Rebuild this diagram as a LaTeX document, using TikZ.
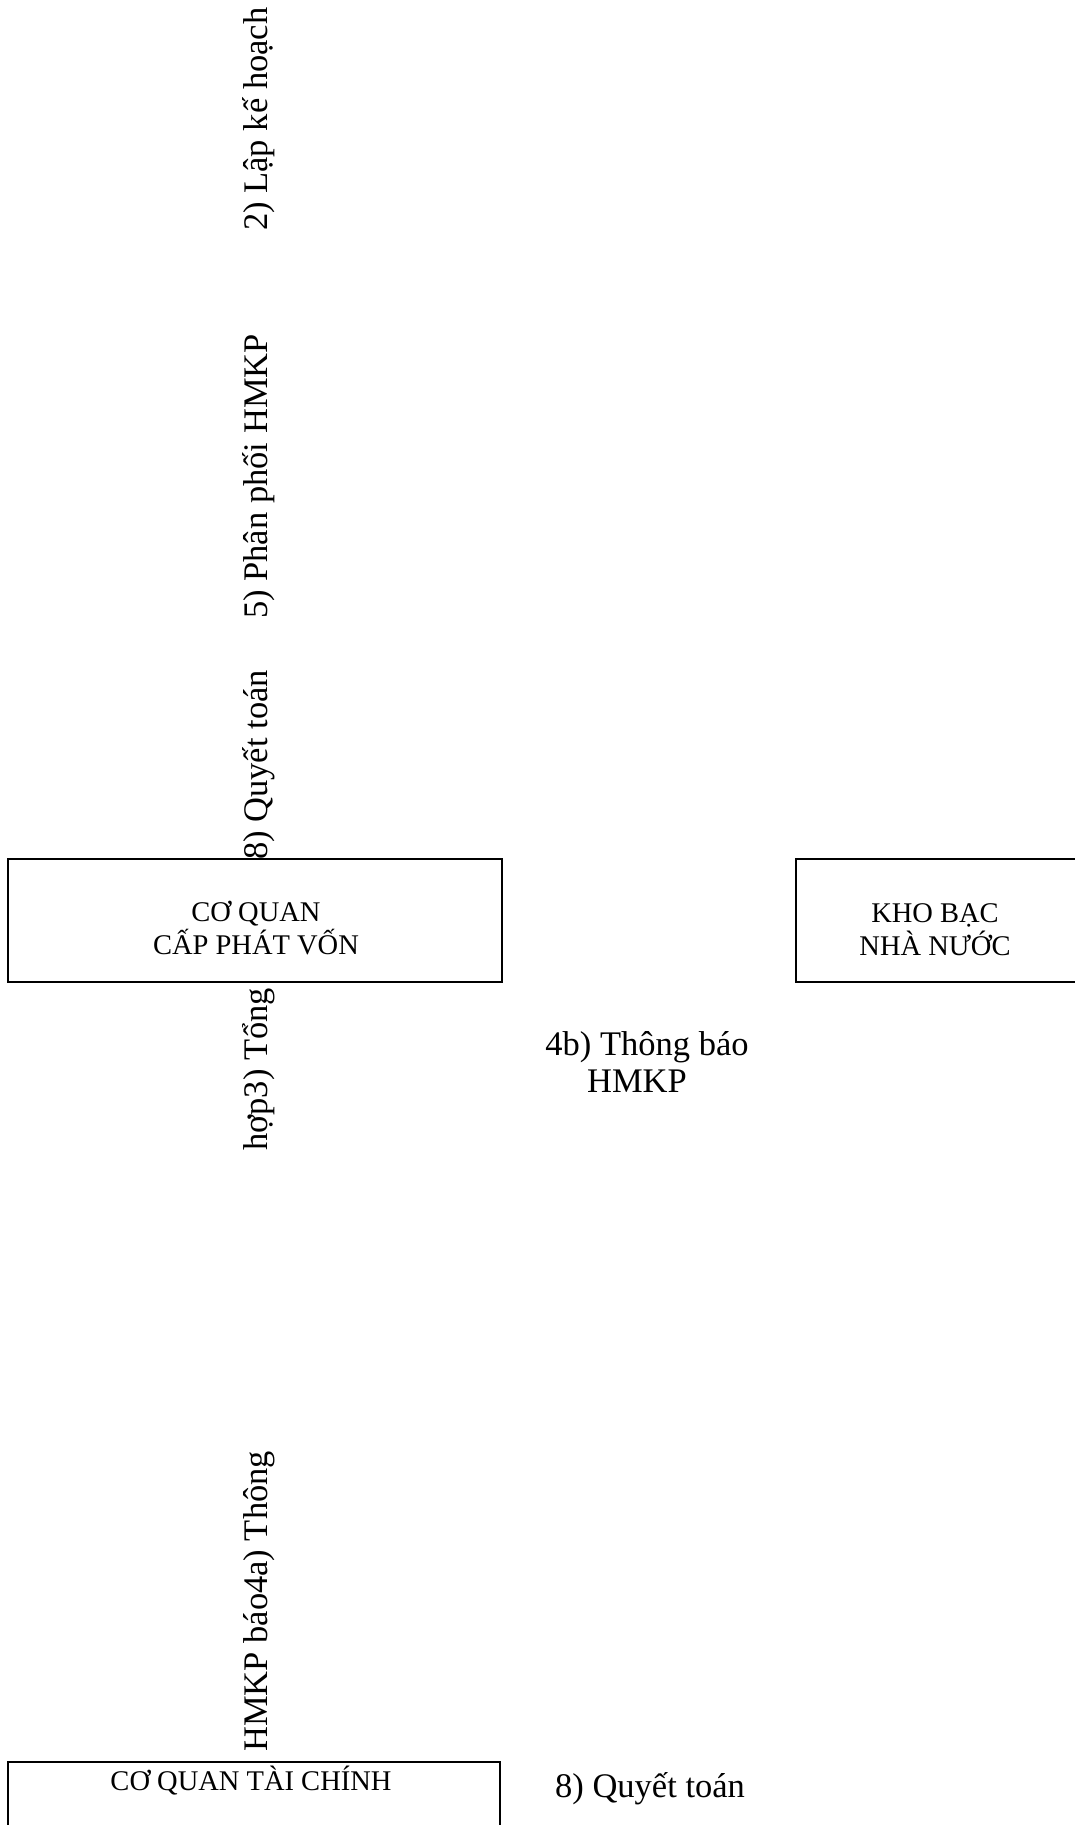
\documentclass[tikz,border=0pt]{standalone}
\usepackage{fontspec}
\setmainfont{Liberation Serif}
\begin{document}
\begin{tikzpicture}[x=1pt,y=-1pt,
  box/.style={draw=black, line width=1.8pt, rectangle, inner sep=0pt},
  boxtext/.style={font=\fontsize{28.5}{33}\selectfont, inner sep=0pt, anchor=base},
  lbl/.style={font=\fontsize{34.5}{38}\selectfont, inner sep=0pt},
  vlbl/.style={lbl, rotate=90, anchor=base west}]
\useasboundingbox (0,0) rectangle (1075,1825);
\fill[white] (0,0) rectangle (1075,1825);
% boxes
\node[box, minimum width=494pt, minimum height=123pt] (cqcp) at (255,920.5) {};
\node[box, minimum width=290pt, minimum height=123pt] (kbnn) at (941,920.5) {};
\node[box, minimum width=492pt, minimum height=140pt] (cqtc) at (254,1832) {};
% box texts
\node[boxtext] (cqcp1) at (256,921) {CƠ QUAN};
\node[boxtext] (cqcp2) at (256,954) {CẤP PHÁT VỐN};
\node[boxtext] (kbnn1) at (935,922) {KHO BẠC};
\node[boxtext] (kbnn2) at (935,955) {NHÀ NƯỚC};
\node[boxtext] (cqtc1) at (251,1790) {CƠ QUAN TÀI CHÍNH};
% vertical labels
\node[vlbl] (l2) at (267,231) {2) Lập kế hoạch};
\node[vlbl] (l5) at (267,619) {5) Phân phối HMKP};
\node[vlbl] (l8a) at (267,860) {8) Quyết toán};
\node[vlbl] (l3) at (267,1151) {hợp3) Tổng};
\node[vlbl] (l4a) at (267,1752) {HMKP báo4a) Thông};
% horizontal labels
\node[lbl, anchor=base] (l4b1) at (647,1055) {4b) Thông báo};
\node[lbl, anchor=base] (l4b2) at (637,1092) {HMKP};
\node[lbl, anchor=base west] (l8b) at (555,1797) {8) Quyết toán};
\end{tikzpicture}
\end{document}
